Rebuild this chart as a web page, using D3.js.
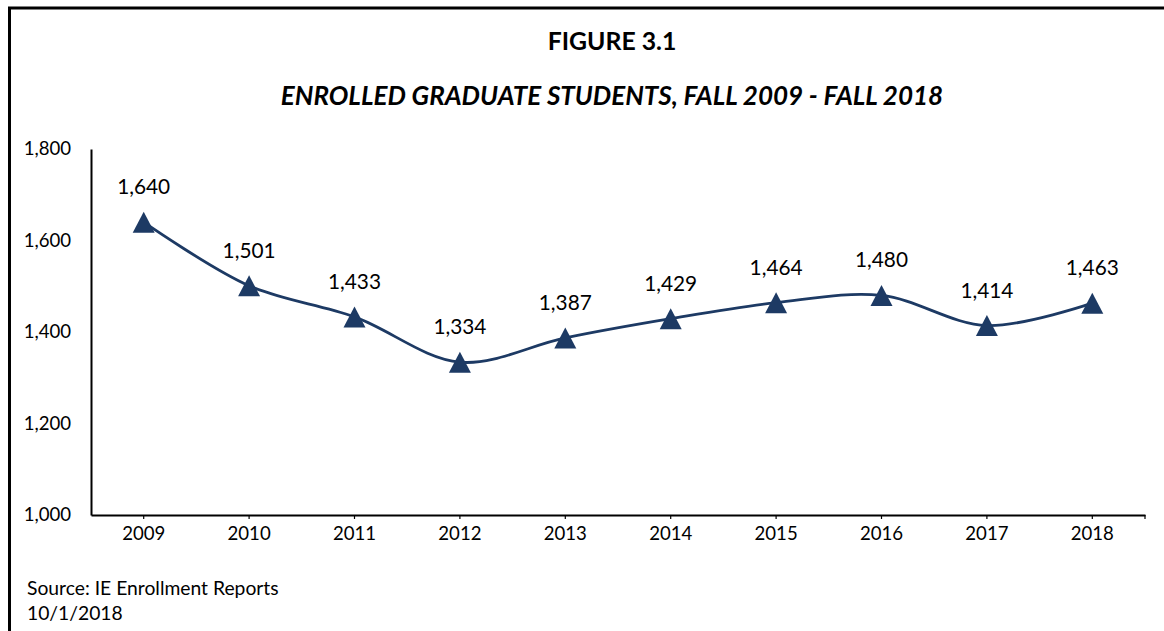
<!DOCTYPE html>
<html>
<head>
<meta charset="utf-8">
<script src="https://cdn.jsdelivr.net/npm/d3@7"></script>
<style>
  html, body { margin: 0; padding: 0; background: #fff; }
  svg { display: block; font-family: Lato, "Open Sans", sans-serif; }
</style>
</head>
<body>
<svg id="chart" width="1164" height="631"></svg>
<script>
// ---- data ----
const years = ["2009","2010","2011","2012","2013","2014","2015","2016","2017","2018"];
const enrolled = [1640, 1501, 1433, 1334, 1387, 1429, 1464, 1480, 1414, 1463];
const yTicks = [1000, 1200, 1400, 1600, 1800];
const titleText = "FIGURE 3.1";
const subtitleText = "ENROLLED GRADUATE STUDENTS, FALL 2009 - FALL 2018";
const sourceLines = ["Source: IE Enrollment Reports", "10/1/2018"];

// ---- layout ----
const W = 1164, H = 631;
const plot = { left: 91, right: 1145, top: 149, bottom: 515 };
const navy = "#1d3a64";

const svg = d3.select("#chart");

// outer frame (only top & left visible, rest cropped)
svg.append("rect")
  .attr("x", 9.5).attr("y", 8)
  .attr("width", W + 20).attr("height", H + 20)
  .attr("fill", "none").attr("stroke", "#000").attr("stroke-width", 3);

// titles
svg.append("text")
  .attr("x", 612).attr("y", 50)
  .attr("text-anchor", "middle")
  .attr("font-weight", "bold").attr("font-size", 24.8)
  .text(titleText);
svg.append("text")
  .attr("x", 612).attr("y", 105)
  .attr("text-anchor", "middle")
  .attr("font-weight", "bold").attr("font-style", "italic").attr("font-size", 26)
  .text(subtitleText);

// scales
const x = d3.scaleBand().domain(years).range([plot.left, plot.right]).padding(0);
const y = d3.scaleLinear().domain([1000, 1800]).range([plot.bottom, plot.top]);
const cx = d => x(d) + x.bandwidth() / 2;

// y axis
const yAxis = svg.append("g")
  .attr("transform", `translate(${plot.left},0)`)
  .call(d3.axisLeft(y).tickValues(yTicks).tickFormat(d3.format(",")).tickSize(0).tickPadding(20));
yAxis.select(".domain").attr("stroke", "#000").attr("stroke-width", 2);
yAxis.selectAll("text").attr("font-size", 18.6).attr("fill", "#000").attr("font-family", "Lato");

// x axis (ticks at category centres plus right end)
const xAxis = svg.append("g")
  .attr("transform", `translate(0,${plot.bottom})`)
  .call(d3.axisBottom(x).tickSize(4).tickPadding(8).tickSizeOuter(0));
xAxis.select(".domain").attr("stroke", "#000").attr("stroke-width", 2);
xAxis.selectAll(".tick line").attr("stroke", "#000").attr("stroke-width", 1.2);
xAxis.selectAll("text").attr("font-size", 18.6).attr("fill", "#000").attr("font-family", "Lato");
xAxis.append("line")
  .attr("x1", plot.right).attr("x2", plot.right)
  .attr("y1", 0).attr("y2", 4)
  .attr("stroke", "#000").attr("stroke-width", 1.2);

// smoothed line
const line = d3.line()
  .x((d, i) => cx(years[i]))
  .y(d => y(d))
  .curve(d3.curveCatmullRom.alpha(0.5));
svg.append("path")
  .datum(enrolled)
  .attr("d", line)
  .attr("fill", "none")
  .attr("stroke", navy)
  .attr("stroke-width", 2.8);

// triangle markers
const mw = 22, mh = 21;
const triPath = `M0,${-mh/2}L${mw/2},${mh/2}L${-mw/2},${mh/2}Z`;
svg.append("g").selectAll("path")
  .data(enrolled)
  .join("path")
  .attr("d", triPath)
  .attr("transform", (d, i) => `translate(${cx(years[i])},${y(d)})`)
  .attr("fill", navy);

// data labels
svg.append("g").selectAll("text")
  .data(enrolled)
  .join("text")
  .attr("x", (d, i) => cx(years[i]))
  .attr("y", d => y(d) - 28)
  .attr("text-anchor", "middle")
  .attr("font-size", 20.8)
  .attr("fill", "#000")
  .text(d => d3.format(",")(d));

// source
svg.append("g").selectAll("text")
  .data(sourceLines)
  .join("text")
  .attr("x", 27)
  .attr("y", (d, i) => 595 + i * 25)
  .attr("font-size", 19.3)
  .attr("fill", "#000")
  .text(d => d);
</script>
</body>
</html>
